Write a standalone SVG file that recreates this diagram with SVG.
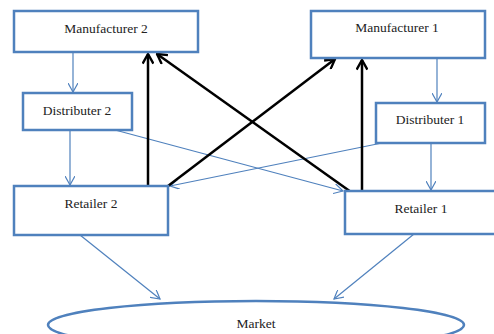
<svg xmlns="http://www.w3.org/2000/svg" width="494" height="334" viewBox="0 0 494 334">
<style>
.box{fill:#fff;stroke:#4F81BD;stroke-width:2.5}
.lbl{font-family:"Liberation Serif","Times New Roman",serif;font-size:13.5px;fill:#222;text-anchor:middle}
.blue{stroke:#4F81BD;stroke-width:1.2;fill:none;marker-end:url(#ab)}
.blk{stroke:#000;stroke-width:2.5;fill:none;marker-end:url(#ak)}
</style>
<defs>
<marker id="ab" viewBox="0 0 10 10" refX="9" refY="5" markerWidth="10" markerHeight="10" markerUnits="userSpaceOnUse" orient="auto">
<path d="M0,0 L9,5 L0,10" fill="none" stroke="#4F81BD" stroke-width="1.2"/>
</marker>
<marker id="ak" viewBox="0 0 10 10" refX="9" refY="5" markerWidth="12" markerHeight="12" markerUnits="userSpaceOnUse" orient="auto">
<path d="M1,0.5 L9,5 L1,9.5" fill="none" stroke="#000" stroke-width="2"/>
</marker>
</defs>
<g id="connectors">
<line class="blue" x1="73" y1="52" x2="73" y2="92"/>
<line class="blue" x1="70" y1="130" x2="70" y2="185"/>
<line class="blue" x1="115" y1="130" x2="343" y2="191"/>
<line class="blue" x1="437" y1="58" x2="437" y2="102"/>
<line class="blue" x1="431" y1="143" x2="431" y2="190"/>
<line class="blue" x1="382" y1="143" x2="170" y2="186"/>
<line class="blue" x1="80" y1="235" x2="160" y2="299"/>
<line class="blue" x1="414" y1="234" x2="334" y2="299"/>
<line class="blk" x1="148" y1="186" x2="148" y2="54"/>
<line class="blk" x1="168" y1="186" x2="335" y2="59"/>
<line class="blk" x1="351" y1="192" x2="157" y2="54"/>
<line class="blk" x1="362" y1="192" x2="362" y2="60"/>
</g>
<g id="manufacturer2"><rect class="box" x="14" y="11" width="184" height="41"/><text class="lbl" x="106" y="33">Manufacturer 2</text></g>
<g id="manufacturer1"><rect class="box" x="311" y="11" width="174" height="47"/><text class="lbl" x="397" y="32">Manufacturer 1</text></g>
<g id="distributer2"><rect class="box" x="23" y="93" width="109" height="37"/><text class="lbl" x="77" y="115">Distributer 2</text></g>
<g id="distributer1"><rect class="box" x="376" y="103" width="109" height="40"/><text class="lbl" x="430" y="124">Distributer 1</text></g>
<g id="retailer2"><rect class="box" x="14" y="186" width="154" height="49"/><text class="lbl" x="91" y="208">Retailer 2</text></g>
<g id="retailer1"><rect class="box" x="345" y="191" width="152" height="43"/><text class="lbl" x="421" y="213">Retailer 1</text></g>
<g id="market"><ellipse cx="256" cy="325" rx="208" ry="24" fill="#fff" stroke="#4F81BD" stroke-width="2.5"/><text class="lbl" x="256" y="328">Market</text></g>
</svg>
